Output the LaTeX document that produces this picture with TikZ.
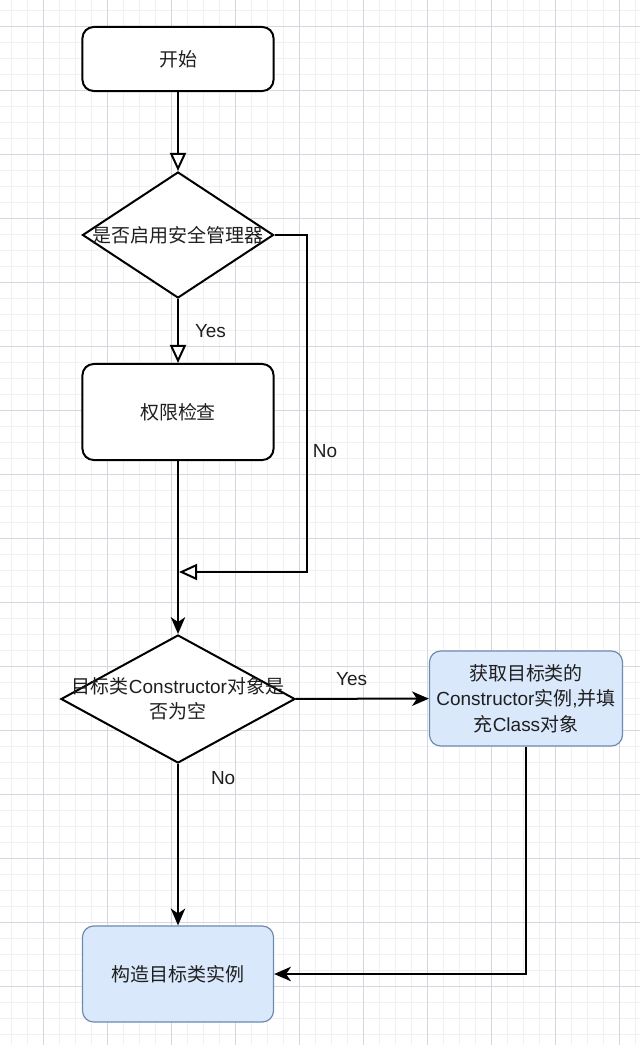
\documentclass[tikz,border=0pt]{standalone}
\usepackage{fontspec}
\setmainfont{Liberation Sans}
\newfontfamily\cjk{Noto Sans CJK SC}
\usetikzlibrary{shapes.geometric,arrows.meta,positioning}
\definecolor{gridmajor}{RGB}{214,214,222}
\definecolor{gridminor}{RGB}{240,240,245}
\definecolor{bluefill}{RGB}{218,232,252}
\definecolor{blueline}{RGB}{110,138,176}
\newcommand\zw[1]{\makebox[0pt]{#1}}

\begin{document}
\begin{tikzpicture}[x=0.025cm,y=-0.025cm,
    font=\fontsize{13.5pt}{18pt}\selectfont,
    box/.style={draw, line width=0.05cm, rounded corners=0.28cm, fill=white,
      minimum width=4.775cm, align=center, text=black!88},
    bluebox/.style={box, fill=bluefill, draw=blueline, line width=0.03cm},
    decision/.style={diamond, draw, line width=0.05cm, fill=white,
      inner sep=0pt, align=center, text=black!88},
    openarr/.style={line width=0.05cm, -{Triangle[fill=white,length=0.45cm,width=0.4cm]}},
    arr/.style={line width=0.05cm, -{Stealth[length=0.42cm,width=0.36cm,inset=0.12cm]}},
    lbl/.style={inner sep=0pt, text=black!88}]

  % background and grid
  \useasboundingbox[fill=white] (0,0) rectangle (640,1045);
  \foreach \gx in {11,27,...,635} \draw[gridminor, line width=0.4pt] (\gx,0) -- (\gx,1045);
  \foreach \gy in {10,26,...,1042} \draw[gridminor, line width=0.4pt] (0,\gy) -- (640,\gy);
  \foreach \gx in {43,107,...,619} \draw[gridmajor, line width=0.6pt] (\gx,0) -- (\gx,1045);
  \foreach \gy in {26,90,...,1042} \draw[gridmajor, line width=0.6pt] (0,\gy) -- (640,\gy);

  % nodes
  \node[box, minimum height=1.6cm] (start) at (178,59) {{\cjk 开始}};
  \node[decision, minimum width=4.775cm, minimum height=3.15cm] (q1) at (178,235)
    {\zw{\cjk 是否启用安全管理器}};
  \node[box, minimum height=2.4cm] (check) at (178,412) {{\cjk 权限检查}};
  \node[decision, minimum width=5.85cm, minimum height=3.2cm] (q2) at (178,699)
    {\zw{{\cjk 目标类}Constructor{\cjk 对象是}}\\\zw{\cjk 否为空}};
  \node[bluebox, minimum width=4.825cm, minimum height=2.375cm] (fetch) at (526,698.5)
    {{\cjk 获取目标类的}\\Constructor{\cjk 实例},{\cjk 并填}\\{\cjk 充}Class{\cjk 对象}};
  \node[bluebox, minimum height=2.4cm] (build) at (178,974) {{\cjk 构造目标类实例}};

  \coordinate (merge) at (179,572);
  \coordinate (nocorner) at (307,572);

  % connectors
  \draw[openarr] (start) -- (q1);
  \draw[openarr] (q1) -- node[lbl, pos=0.5, right=0.4cm] {Yes} (check);
  \draw[openarr] (q1.east) -| node[lbl, pos=0.82, right=0.12cm] {No} (nocorner) -- (merge);
  \draw[arr] (check) -- (q2);
  \draw[arr] (q2) -- node[lbl, pos=0.42, above=0.3cm] {Yes} (fetch);
  \draw[arr] (q2) -- node[lbl, pos=0.09, right=0.8cm] {No} (build);
  \draw[arr] (fetch) |- (build);

\end{tikzpicture}
\end{document}
